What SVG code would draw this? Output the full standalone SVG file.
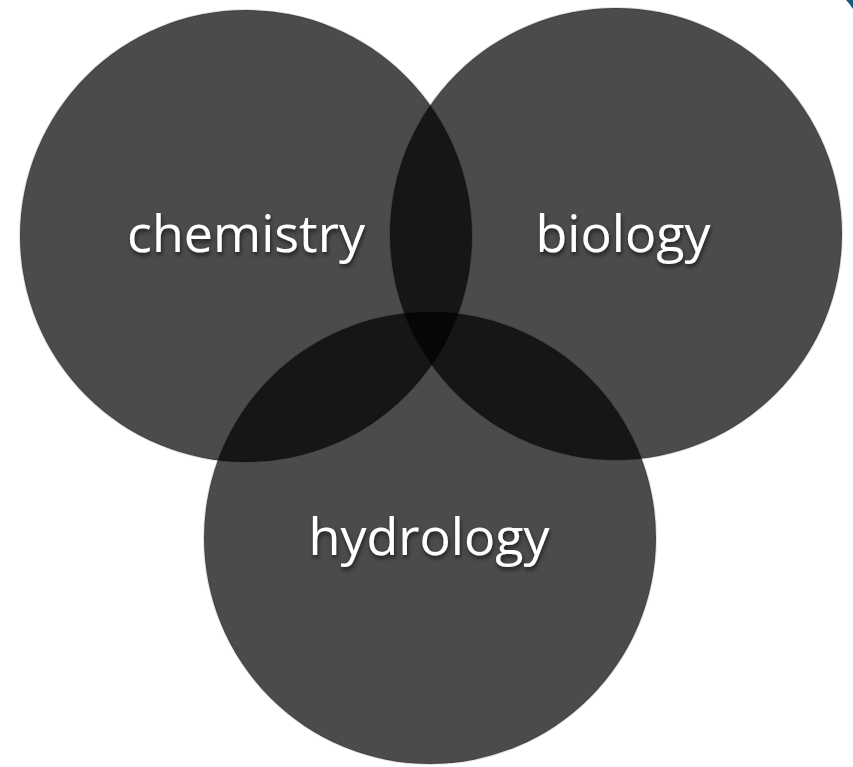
<svg xmlns="http://www.w3.org/2000/svg" width="853" height="767" viewBox="0 0 853 767">
  <defs>
    <style>
      .set { fill: #000; fill-opacity: 0.705; stroke: #000; stroke-opacity: 0.12; stroke-width: 2; }
      .label { font-family: "Open Sans", "Liberation Sans", sans-serif; font-size: 52px; fill: #ffffff; text-anchor: middle; filter: url(#shadow); }
    </style>
    <filter id="shadow" x="-10%" y="-30%" width="120%" height="160%">
      <feDropShadow dx="1" dy="3" stdDeviation="2" flood-color="#000" flood-opacity="0.6"/>
    </filter>
  </defs>
  <rect width="853" height="767" fill="#ffffff"/>
  <path d="M846,0 Q850,4 853,9 L853,0 Z" fill="#1d5a78"/>
  <g id="chemistry">
    <circle class="set" cx="246" cy="236" r="226"/>
    <text class="label" x="246" y="252">chemistry</text>
  </g>
  <g id="biology">
    <circle class="set" cx="616" cy="234" r="226"/>
    <text class="label" x="623" y="252">biology</text>
  </g>
  <g id="hydrology">
    <circle class="set" cx="430" cy="538" r="226"/>
    <text class="label" x="429" y="555">hydrology</text>
  </g>
  <g id="connectors"></g>
</svg>
